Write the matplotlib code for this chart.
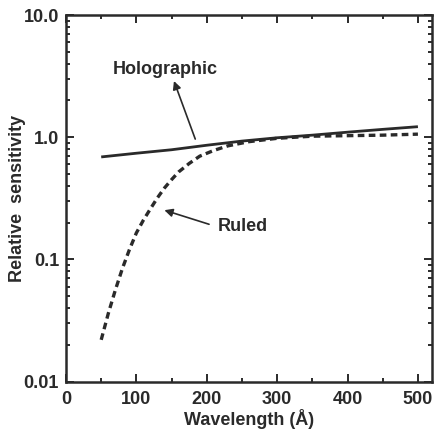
import matplotlib
matplotlib.use("Agg")
import matplotlib.pyplot as plt
from matplotlib.ticker import FixedLocator, FixedFormatter, LogLocator, NullFormatter, MultipleLocator

plt.rcParams['font.family'] = ['Liberation Sans', 'DejaVu Sans']
plt.rcParams['font.weight'] = 'bold'

holo_x = [50, 100, 150, 200, 250, 300, 350, 400, 450, 500]
holo_y = [0.69, 0.74, 0.79, 0.86, 0.93, 0.99, 1.04, 1.10, 1.16, 1.22]

ruled_x = [50, 60, 70, 80, 90, 100, 110, 120, 130, 140, 150, 160, 175, 190, 210, 230, 260, 300, 350, 400, 450, 500]
ruled_y = [0.022, 0.036, 0.056, 0.084, 0.12, 0.165, 0.21, 0.26, 0.32, 0.385, 0.45, 0.52, 0.61, 0.70, 0.78, 0.85, 0.92, 0.98, 1.02, 1.03, 1.04, 1.06]

y_ticks = [0.01, 0.1, 1.0, 10.0]
y_labels = ["0.01", "0.1", "1.0", "10.0"]
x_ticks = [0, 100, 200, 300, 400, 500]

ink = '#2a2a2a'
fs = 13
fig = plt.figure(figsize=(4.38, 4.29), dpi=100)
ax = fig.add_axes([0.1507, 0.1103, 0.8356, 0.8547])

ax.plot(holo_x, holo_y, color=ink, lw=2.0, solid_capstyle='butt')
ax.plot(ruled_x, ruled_y, color=ink, lw=2.4, linestyle=(0, (2.0, 1.3)))

ax.set_yscale('log')
ax.set_xlim(0, 520)
ax.set_ylim(0.01, 10)
ax.yaxis.set_major_locator(FixedLocator(y_ticks))
ax.yaxis.set_major_formatter(FixedFormatter(y_labels))
ax.yaxis.set_minor_locator(LogLocator(base=10, subs=range(2, 10)))
ax.yaxis.set_minor_formatter(NullFormatter())
ax.xaxis.set_major_locator(FixedLocator(x_ticks))
ax.xaxis.set_minor_locator(MultipleLocator(50))

ax.tick_params(which='both', direction='in', top=True, right=True, colors=ink,
               labelsize=fs, width=1.4)
ax.tick_params(which='major', length=6)
ax.tick_params(which='minor', length=3)
ax.tick_params(axis='x', which='major', pad=7)
ax.tick_params(axis='y', which='major', pad=5)
for s in ax.spines.values():
    s.set_linewidth(1.8)
    s.set_color(ink)

ax.set_xlabel('Wavelength (Å)', fontsize=fs, fontweight='bold', color=ink)
ax.set_ylabel('Relative  sensitivity', fontsize=fs, fontweight='bold', color=ink)
ax.xaxis.set_label_coords(0.5, -0.075)
ax.yaxis.set_label_coords(-0.108, 0.5)

ax.annotate('', xy=(152, 3.03), xytext=(185, 0.92),
            arrowprops=dict(arrowstyle='-|>', color=ink, lw=1.2, mutation_scale=12))
ax.text(141, 3.55, 'Holographic', ha='center', va='center', fontsize=fs, fontweight='bold', color=ink)

ax.annotate('', xy=(136, 0.257), xytext=(207, 0.191),
            arrowprops=dict(arrowstyle='-|>', color=ink, lw=1.2, mutation_scale=12))
ax.text(216, 0.185, 'Ruled', ha='left', va='center', fontsize=fs, fontweight='bold', color=ink)

fig.savefig('out.png', dpi=100)
